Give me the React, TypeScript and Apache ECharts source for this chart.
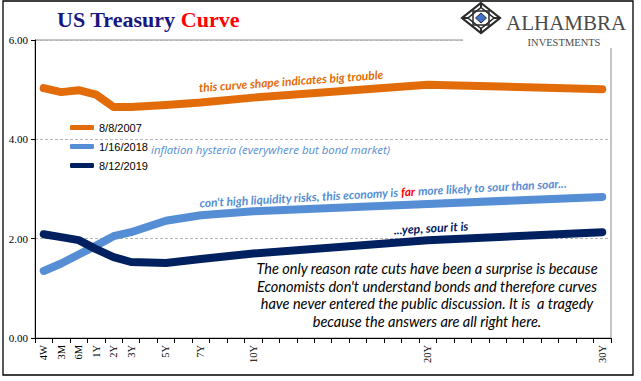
import React, { useEffect, useRef } from "react";
import * as echarts from "echarts";

// x categories (one slot per year after 3Y, as in the original axis)
const categories = [
  "4W", "3M", "6M", "1Y", "2Y", "3Y", "4Y", "5Y", "6Y", "7Y", "8Y", "9Y", "10Y",
  "11Y", "12Y", "13Y", "14Y", "15Y", "16Y", "17Y", "18Y", "19Y", "20Y",
  "21Y", "22Y", "23Y", "24Y", "25Y", "26Y", "27Y", "28Y", "29Y", "30Y",
];
// tick labels that are shown / maturities with data
const maturities = ["4W", "3M", "6M", "1Y", "2Y", "3Y", "5Y", "7Y", "10Y", "20Y", "30Y"];
const yTickLabels = ["0.00", "2.00", "4.00", "6.00"];

const curve2007 = [5.03, 4.95, 4.99, 4.9, 4.65, 4.65, 4.69, 4.74, 4.84, 5.1, 5.01];
const curve2018 = [1.35, 1.5, 1.68, 1.86, 2.05, 2.13, 2.36, 2.47, 2.55, 2.7, 2.84];
const curve2019 = [2.09, 2.03, 1.97, 1.79, 1.63, 1.53, 1.51, 1.59, 1.7, 1.97, 2.13];

const seriesNames = ["8/8/2007", "1/16/2018", "8/12/2019"];
const seriesColors = ["#E36C0A", "#558ED5", "#002060"];

const pairs = (vals: number[]) => maturities.map((m, i) => [m, vals[i]]);

export default function App() {
  const ref = useRef<HTMLDivElement>(null);
  useEffect(() => {
    if (!ref.current) return;
    const chart = echarts.init(ref.current, null, { renderer: "svg" });
    const lineSeries = (name: string, vals: number[], color: string, z: number) => ({
      type: "line",
      name,
      data: pairs(vals),
      showSymbol: false,
      symbol: "none",
      z,
      color,
      lineStyle: { width: 8, color, cap: "round", join: "round" },
    });
    const dk = "#2a2a2a";
    const cx = 481;
    const cy = 18;
    const dia = (hw: number, hh: number) => [[cx, cy - hh], [cx + hw, cy], [cx, cy + hh], [cx - hw, cy]];
    const logoParts = [
      { type: "polygon", z: 52, shape: { points: dia(19, 15) }, style: { fill: "none", stroke: dk, lineWidth: 2.2 } },
      { type: "polygon", z: 52, shape: { points: dia(13, 10.5) }, style: { fill: "none", stroke: dk, lineWidth: 1.6 } },
      { type: "polygon", z: 52, shape: { points: [[cx - 8, cy - 7], [cx + 8, cy - 7], [cx + 8, cy + 7], [cx - 8, cy + 7]] }, style: { fill: "none", stroke: dk, lineWidth: 1.5 } },
      { type: "polygon", z: 53, shape: { points: dia(5.5, 5) }, style: { fill: "#3D72C8", stroke: dk, lineWidth: 1 } },
      { type: "line", z: 52, shape: { x1: cx, y1: cy - 15, x2: cx, y2: cy - 10 }, style: { stroke: dk, lineWidth: 2 } },
      { type: "line", z: 52, shape: { x1: cx, y1: cy + 15, x2: cx, y2: cy + 10 }, style: { stroke: dk, lineWidth: 2 } },
      { type: "line", z: 52, shape: { x1: cx - 19, y1: cy, x2: cx - 13, y2: cy }, style: { stroke: dk, lineWidth: 2 } },
      { type: "line", z: 52, shape: { x1: cx + 19, y1: cy, x2: cx + 13, y2: cy }, style: { stroke: dk, lineWidth: 2 } },
    ];
    chart.setOption({
      animation: false,
      backgroundColor: "#fff",
      title: {
        text: "{a|US Treasury }{b|Curve}",
        left: 57,
        top: 8,
        padding: 0,
        textStyle: {
          rich: {
            a: { fontFamily: "Liberation Serif", fontSize: 22, color: "#17177F" },
            b: { fontFamily: "Liberation Serif", fontSize: 22, fontWeight: "bold", color: "#FF0000" },
          },
        },
      },
      legend: {
        orient: "vertical",
        left: 70,
        top: 122,
        padding: 0,
        itemWidth: 24,
        itemHeight: 5,
        itemGap: 8,
        icon: "roundRect",
        data: seriesNames,
        textStyle: { fontFamily: "Liberation Sans", fontSize: 11, color: "#000" },
      },
      grid: {
        left: 35,
        right: 30,
        top: 40,
        bottom: 43,
        show: true,
        borderColor: "#8c8c8c",
        borderWidth: 1,
        backgroundColor: "transparent",
      },
      xAxis: {
        type: "category",
        data: categories,
        boundaryGap: true,
        axisLine: { lineStyle: { color: "#000", width: 1 } },
        axisTick: { show: true, interval: 0, length: 5, lineStyle: { color: "#000" } },
        axisLabel: {
          interval: 0,
          rotate: 90,
          margin: 7,
          fontFamily: "Liberation Serif",
          fontSize: 10.5,
          color: "#000",
          formatter: (v: string) => (maturities.includes(v) ? v : ""),
        },
        splitLine: { show: false },
      },
      yAxis: {
        type: "value",
        min: 0,
        max: 6,
        interval: 2,
        axisLine: { show: true, lineStyle: { color: "#000", width: 1 } },
        axisTick: { show: true, length: 4, lineStyle: { color: "#000" } },
        axisLabel: {
          margin: 7,
          fontFamily: "Liberation Serif",
          fontSize: 11,
          color: "#000",
          formatter: (v: number) => yTickLabels[Math.round(v / 2)] ?? v.toFixed(2),
        },
        splitLine: { show: true, lineStyle: { color: "#b5b5b5", type: [3, 2], width: 1 } },
      },
      series: [
        lineSeries(seriesNames[0], curve2007, seriesColors[0], 2),
        lineSeries(seriesNames[1], curve2018, seriesColors[1], 3),
        lineSeries(seriesNames[2], curve2019, seriesColors[2], 4),
      ],
      graphic: [
        { type: "rect", shape: { x: 463, y: 2, width: 170, height: 46 }, style: { fill: "#fff" }, z: 50 },
        ...logoParts,
        { type: "text", x: 506, y: 33, z: 51, style: { text: "ALHAMBRA", fontFamily: "Liberation Serif", fontSize: 21, fill: "#4a4a4a", align: "left", verticalAlign: "bottom" } },
        { type: "text", x: 564, y: 42, z: 51, style: { text: "INVESTMENTS", fontFamily: "Liberation Serif", fontSize: 10.5, fill: "#4a4a4a", align: "center", verticalAlign: "middle" } },
        { type: "rect", shape: { x: 3, y: 1, width: 630, height: 374 }, style: { fill: "none", stroke: "#000", lineWidth: 1.3 }, z: 60 },
        {
          type: "text", x: 151, y: 149, z: 40,
          style: { text: "inflation hysteria (everywhere but bond market)", fontFamily: "Open Sans", fontStyle: "italic", fontSize: 11.4, fill: "#558ED5", align: "left", verticalAlign: "middle" },
        },
        {
          type: "text", x: 291, y: 81, rotation: 0.071, z: 40,
          style: { text: "this curve shape indicates big trouble", fontFamily: "Lato", fontStyle: "italic", fontWeight: "bold", fontSize: 11.9, fill: "#E36C0A", align: "center", verticalAlign: "middle" },
        },
        {
          type: "text", x: 383, y: 193, rotation: 0.054, z: 40,
          style: {
            text: "{b|con't high liquidity risks, this economy is }{r|far}{b| more likely to sour than soar...}",
            align: "center", verticalAlign: "middle",
            rich: {
              b: { fontFamily: "Lato", fontStyle: "italic", fontWeight: "bold", fontSize: 11.9, fill: "#558ED5", color: "#558ED5" },
              r: { fontFamily: "Lato", fontStyle: "italic", fontWeight: "bold", fontSize: 11.9, fill: "#FF0000", color: "#FF0000" },
            },
          },
        },
        {
          type: "text", x: 431, y: 228, rotation: 0.053, z: 40,
          style: { text: "...yep, sour it is", fontFamily: "Lato", fontStyle: "italic", fontWeight: "bold", fontSize: 12.2, fill: "#002060", align: "center", verticalAlign: "middle" },
        },
        {
          type: "text", x: 427, y: 295, z: 40,
          style: {
            text: "The only reason rate cuts have been a surprise is because\nEconomists don't understand bonds and therefore curves\nhave never entered the public discussion. It is  a tragedy\nbecause the answers are all right here.",
            fontFamily: "Lato", fontStyle: "italic", fontSize: 14.5, lineHeight: 17.7, fill: "#000", align: "center", verticalAlign: "middle",
          },
        },
      ],
    });
    return () => chart.dispose();
  }, []);
  return (
    <div
      ref={ref}
      style={{ position: "fixed", left: 0, top: 0, width: 641, height: 381, background: "#fff" }}
    />
  );
}
